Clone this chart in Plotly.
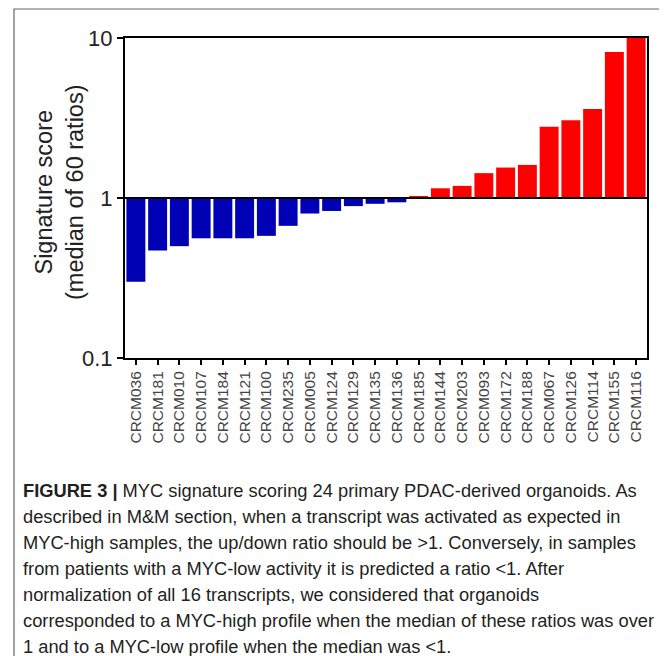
import plotly.graph_objects as go

# ---- data ----
samples = ["CRCM036", "CRCM181", "CRCM010", "CRCM107", "CRCM184", "CRCM121",
           "CRCM100", "CRCM235", "CRCM005", "CRCM124", "CRCM129", "CRCM135",
           "CRCM136", "CRCM185", "CRCM144", "CRCM203", "CRCM093", "CRCM172",
           "CRCM188", "CRCM067", "CRCM126", "CRCM114", "CRCM155", "CRCM116"]
scores = [0.30, 0.47, 0.50, 0.56, 0.56, 0.56,
          0.58, 0.67, 0.80, 0.83, 0.89, 0.92,
          0.94, 1.03, 1.15, 1.19, 1.43, 1.55,
          1.61, 2.79, 3.06, 3.60, 8.18, 10.0]
y_ticks = [0.1, 1, 10]
y_tick_labels = ["0.1", "1", "10"]
baseline = 1
y_title = "Signature score<br>(median of 60 ratios)"
caption_lines = [
    "<b>FIGURE 3 |</b> MYC signature scoring 24 primary PDAC-derived organoids. As",
    "described in M&amp;M section, when a transcript was activated as expected in",
    "MYC-high samples, the up/down ratio should be &gt;1. Conversely, in samples",
    "from patients with a MYC-low activity it is predicted a ratio &lt;1. After",
    "normalization of all 16 transcripts, we considered that organoids",
    "corresponded to a MYC-high profile when the median of these ratios was over",
    "1 and to a MYC-low profile when the median was &lt;1.",
]

BLUE = "#0000B4"
RED = "#FF0000"
colors = [RED if v > baseline else BLUE for v in scores]

# page offset (body margin) compensation
OFF = 8
W, H = 667, 656
# target plot-area edges in screenshot pixels
PL, PR, PT, PB = 125, 647, 38, 358
L, T = PL - OFF, PT - OFF
R, B = W - (PR - OFF), H - (PB - OFF)
pw, ph = PR - PL, PB - PT

def px_x(p):
    return (p - PL) / pw

def px_y(p):
    return (PB - p) / ph

fig = go.Figure()
fig.add_trace(go.Bar(
    x=samples,
    y=[v - baseline for v in scores],
    base=[baseline] * len(scores),
    marker=dict(color=colors, line=dict(width=0)),
    hoverinfo="skip",
))

fig.update_layout(
    width=W, height=H,
    margin=dict(l=L, r=R, t=T, b=B),
    paper_bgcolor="white",
    plot_bgcolor="white",
    showlegend=False,
    bargap=0.13,
    font=dict(family="Liberation Sans, Arial, sans-serif", color="#222"),
    xaxis=dict(
        type="category",
        showline=True, linecolor="black", linewidth=2, mirror=True,
        ticks="outside", ticklen=5, tickwidth=2, tickcolor="black",
        tickangle=-90,
        tickfont=dict(size=15.5, color="#444"),
        showgrid=False, zeroline=False,
    ),
    yaxis=dict(
        type="log",
        range=[-1, 1],
        tickvals=y_ticks, ticktext=y_tick_labels,
        showline=True, linecolor="black", linewidth=2, mirror=True,
        ticks="outside", ticklen=6, tickwidth=2, tickcolor="black",
        tickfont=dict(size=22, color="#222"),
        showgrid=False, zeroline=False,
    ),
)

# baseline at 1
fig.add_shape(type="line", xref="paper", yref="y", x0=0, x1=1,
              y0=baseline, y1=baseline, line=dict(color="black", width=2))

# outer frame of figure panel
fig.add_shape(type="rect", xref="paper", yref="paper",
              x0=px_x(14), x1=px_x(690), y0=px_y(9), y1=px_y(690),
              line=dict(color="#666", width=1.2), layer="below")

# y-axis title
fig.add_annotation(text=y_title, xref="paper", yref="paper",
                   x=px_x(59), y=px_y(192), textangle=-90,
                   showarrow=False, xanchor="center", yanchor="middle",
                   font=dict(size=23.5, color="#222"))

# caption
for i, line in enumerate(caption_lines):
    fig.add_annotation(text=line, xref="paper", yref="paper",
                       x=px_x(21), y=px_y(490 + 26.0 * i),
                       xanchor="left", yanchor="middle", align="left",
                       showarrow=False,
                       font=dict(size=18.3, color="#231F20"))

fig.write_html("out.html")
